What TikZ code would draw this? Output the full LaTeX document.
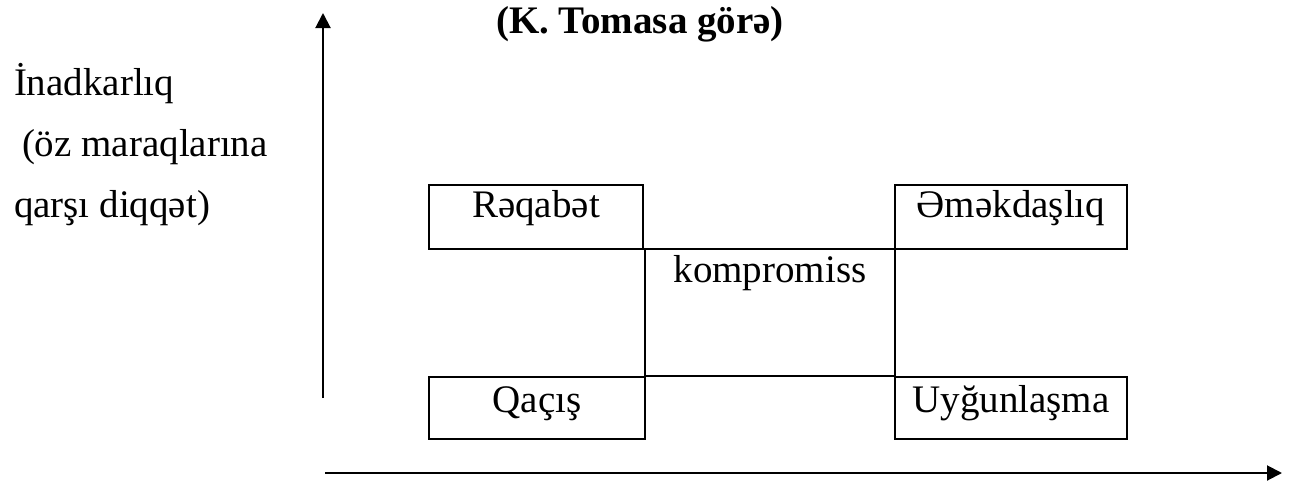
\documentclass[tikz,border=0pt]{standalone}
\usepackage{fontspec}
\setmainfont{Liberation Serif}
\usepackage{tikz}
\usetikzlibrary{arrows.meta,positioning}

\begin{document}
\begin{tikzpicture}[x=0.5pt,y=-0.5pt,line width=1pt,>={Triangle[length=7.5pt,width=7.5pt]},
  font=\fontsize{19.5pt}{30.5pt}\selectfont,
  cell/.style={draw,inner sep=0pt,minimum height=32pt},
  upper/.style={cell,text height=9pt,text depth=9pt},
  lower/.style={cell,minimum height=31pt,text height=11pt,text depth=7pt}]

    \useasboundingbox (0,0) rectangle (1298,483);

    % The axes
    \coordinate (ybot) at (323,398);
    \coordinate (ytop) at (323,13);
    \coordinate (xbot) at (325,473);
    \coordinate (xtop) at (1282,473);
    \draw[->] (ybot) -- (ytop);
    \draw[->] (xbot) -- (xtop);

    % Texts
    \node [anchor=base] at (640,33) (title) {\bfseries (K. Tomasa görə)};
    \node [anchor=base west,align=left,inner sep=0pt] at (13,217) (axis) {İnadkarlıq\\\hspace{4pt}(öz maraqlarına\\qarşı diqqət)};

    % The boxes
    \node [upper,minimum width=107pt] at (536,217) (reqabet) {Rəqabət};
    \node [upper,minimum width=116pt] at (1011,217) (emekdas) {Əməkdaşlıq};
    \node [cell,minimum width=125pt,minimum height=63.5pt,
           label={[anchor=base,yshift=-17pt]north:kompromiss}] at (770,312.5) (komp) {};
    \node [lower,minimum width=108pt] at (537,408) (qacis) {Qaçış};
    \node [lower,minimum width=116pt] at (1011,408) (uygun) {Uyğunlaşma};

\end{tikzpicture}
\end{document}
